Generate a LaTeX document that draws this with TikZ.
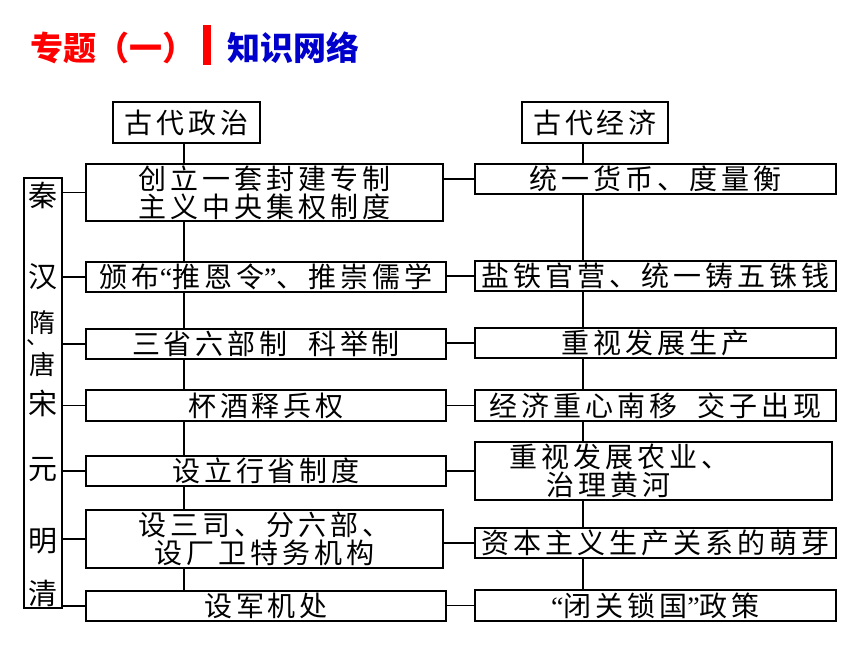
\documentclass[tikz,border=0pt]{standalone}
\usepackage{fontspec}
\usepackage{tikz}
\newfontfamily\cjk[LetterSpace=14]{Noto Sans CJK SC}
\newfontfamily\cjktitle{Noto Sans CJK SC}
\newfontfamily\qfont{Liberation Serif}
\newcommand\qmark[1]{{\qfont #1}}
\definecolor{titlered}{RGB}{255,0,0}
\definecolor{titleblue}{RGB}{0,0,204}

\begin{document}
\begin{tikzpicture}[x=1pt, y=-1pt, line width=1.2pt,
  main/.style = {draw, inner sep=0pt, minimum width=360pt, minimum height=30pt, align=center, font=\cjk\fontsize{28}{28}\selectfont},
  head/.style = {main, minimum width=147pt, minimum height=41pt},
  era/.style = {inner sep=0pt, align=center, font=\cjk\fontsize{29}{30}\selectfont},
  title/.style = {anchor=west, inner sep=0pt, font=\cjktitle\bfseries\fontsize{33}{36}\selectfont}]
\useasboundingbox (0,0) rectangle (860,645);
% title
\node[title, text=titlered] (t1) at (30,48) {专题（一）};
\node[fill=titlered, inner sep=0pt, minimum width=8pt, minimum height=40pt] (bar) at (207,45) {};
\node[title, text=titleblue] (t2) at (227,48) {知识网络};
% politics
\node[head] (h1) at (186.5,122.5) {古代政治};
\node[main, minimum width=357pt, minimum height=57pt] (l1) at (264.5,192.5) {创立一套封建专制\\主义中央集权制度};
\node[main] (l2) at (266,277) {颁布\qmark{“}推恩令\qmark{”}、推崇儒学};
\node[main] (l3) at (266,344) {三省六部制\ \ 科举制};
\node[main, minimum height=31pt] (l4) at (266,405.5) {杯酒释兵权};
\node[main] (l5) at (266,471) {设立行省制度};
\node[main, minimum width=357pt, minimum height=58pt] (l6) at (264.5,539) {设三司、分六部、\\设厂卫特务机构};
\node[main] (l7) at (266,606) {设军机处};
% economy
\node[head, minimum width=146pt] (h2) at (595,122.5) {古代经济};
\node[main, minimum width=361pt] (r1) at (655.5,179) {统一货币、度量衡};
\node[main, minimum width=361pt] (r2) at (655.5,276) {盐铁官营、统一铸五铢钱};
\node[main, minimum width=361pt] (r3) at (655.5,343) {重视发展生产};
\node[main, minimum width=361pt, minimum height=31pt] (r4) at (655.5,405.5) {经济重心南移\ \ 交子出现};
\node[main, minimum width=357pt, minimum height=58pt] (r5) at (653.5,471) {重视发展农业、\hspace*{68pt}\mbox{}\\治理黄河\hspace*{90pt}\mbox{}};
\node[main, minimum width=361pt] (r6) at (655.5,543) {资本主义生产关系的萌芽};
\node[main, minimum width=361pt, minimum height=31pt] (r7) at (655.5,605.5) {\qmark{“}闭关锁国\qmark{”}政策};
% dynasties
\node[draw, inner sep=0pt, minimum width=38pt, minimum height=430pt] (dy) at (43,393) {};
\node[era] (d1) at (43,195) {秦};
\node[era] (d2) at (43,277) {汉};
\node[era, font=\cjk\fontsize{26}{30}\selectfont] (d3) at (43,323) {隋};
\node[era, font=\cjktitle\fontsize{22}{22}\selectfont] (d3b) at (38,343) {、};
\node[era, font=\cjk\fontsize{26}{30}\selectfont] (d3c) at (43,364) {唐};
\node[era] (d4) at (43,403) {宋};
\node[era] (d5) at (43,470) {元};
\node[era] (d6) at (43,541) {明};
\node[era] (d7) at (43,593) {清};
\coordinate (px) at (184,150);
\coordinate (ex) at (583,150);
% trunk lines
\draw(px |- h1.south) -- (px |- l1.north);
\draw(px |- l1.south) -- (px |- l2.north);
\draw(px |- l2.south) -- (px |- l3.north);
\draw(px |- l3.south) -- (px |- l4.north);
\draw(px |- l4.south) -- (px |- l5.north);
\draw(px |- l5.south) -- (px |- l6.north);
\draw(px |- l6.south) -- (px |- l7.north);
\draw(ex |- h2.south) -- (ex |- r1.north);
\draw(ex |- r1.south) -- (ex |- r2.north);
\draw(ex |- r2.south) -- (ex |- r3.north);
\draw(ex |- r3.south) -- (ex |- r4.north);
\draw(ex |- r4.south) -- (ex |- r5.north);
\draw(ex |- r5.south) -- (ex |- r6.north);
\draw(ex |- r6.south) -- (ex |- r7.north);
% links
\draw(l1.west) -- (l1.west -| dy.east);
\draw(l2.west) -- (l2.west -| dy.east);
\draw(l3.west) -- (l3.west -| dy.east);
\draw(l4.west) -- (l4.west -| dy.east);
\draw(l5.west) -- (l5.west -| dy.east);
\draw(l6.west) -- (l6.west -| dy.east);
\draw(l7.west) -- (l7.west -| dy.east);
\draw(r1.west) -- (r1.west -| l1.east);
\draw(r2.west) -- (r2.west -| l2.east);
\draw(r3.west) -- (r3.west -| l3.east);
\draw(r4.west) -- (r4.west -| l4.east);
\draw(r5.west) -- (r5.west -| l5.east);
\draw(r6.west) -- (r6.west -| l6.east);
\draw(r7.west) -- (r7.west -| l7.east);
\end{tikzpicture}
\end{document}
